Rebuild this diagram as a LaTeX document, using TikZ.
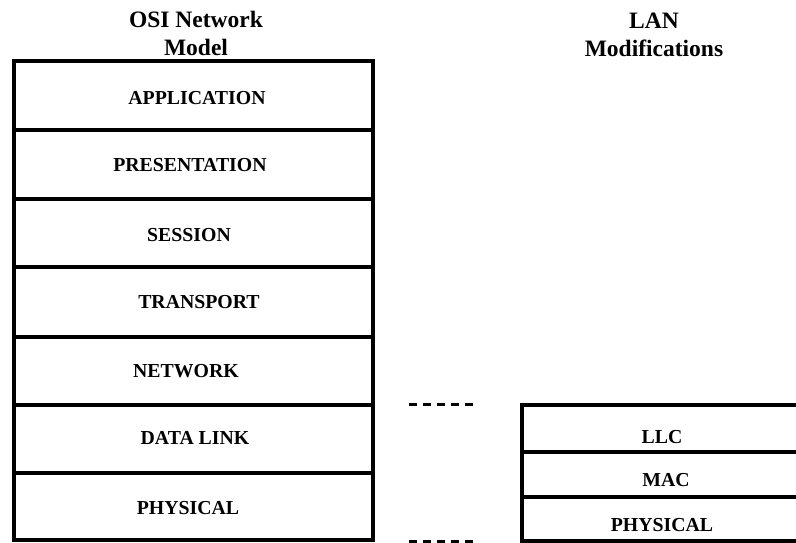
\documentclass[tikz,border=0pt]{standalone}
\usepackage{fontspec}
\setmainfont{Liberation Serif}
\begin{document}
\begin{tikzpicture}[x=1pt,y=-1pt,
  layer/.style={draw, line width=3.5pt, rectangle, inner sep=0pt},
  osirow/.style={layer, minimum width=359pt, minimum height=#1},
  lanrow/.style={layer, minimum width=300pt, minimum height=#1, anchor=north west},
  lbl/.style={font=\bfseries\fontsize{19.8}{24}\selectfont, inner sep=0pt},
  ttl/.style={font=\bfseries\fontsize{23.5}{28}\selectfont, align=center, inner sep=0pt},
  sep/.style={line width=3pt, dash pattern=on 8pt off 6pt}]
\useasboundingbox (0,0) rectangle (796,542);
\begin{scope}
\clip (0,0) rectangle (796,542);
% titles
\node[ttl] (osititle) at (196,33) {OSI Network\\Model};
\node[ttl] (lantitle) at (654,35) {LAN\\Modifications};
% OSI stack
\node[osirow=69pt] (app)  at (193.5,95.5) {};
\node[osirow=69pt] (pres) at (193.5,164.5) {};
\node[osirow=68pt] (sess) at (193.5,233) {};
\node[osirow=70pt] (trans) at (193.5,302) {};
\node[osirow=68pt] (net)  at (193.5,371) {};
\node[osirow=68pt] (dl)   at (193.5,439) {};
\node[osirow=67pt] (phy)  at (193.5,506.5) {};
\node[lbl] at (197,98) {APPLICATION};
\node[lbl] at (190,165) {PRESENTATION};
\node[lbl] at (189,235) {SESSION};
\node[lbl] at (199,302) {TRANSPORT};
\node[lbl] at (186,371) {NETWORK};
\node[lbl] at (195,438) {DATA LINK};
\node[lbl] at (188,508) {PHYSICAL};
% LAN stack
\node[lanrow=47pt] (llc)  at (520,403) {};
\node[lanrow=45pt] (mac)  at (520,450) {};
\node[lanrow=44pt] (lphy) at (520,495) {};
\node[lbl] at (662,437) {LLC};
\node[lbl] at (666,480) {MAC};
\node[lbl] at (662,525) {PHYSICAL};
% dashed markers between the stacks
\coordinate (ua) at (409,404);
\coordinate (ub) at (478,404);
\coordinate (la) at (409,541);
\coordinate (lb) at (478,541);
\draw[sep] (ua) -- (ub);
\draw[sep] (la) -- (lb);
\end{scope}
\end{tikzpicture}
\end{document}
